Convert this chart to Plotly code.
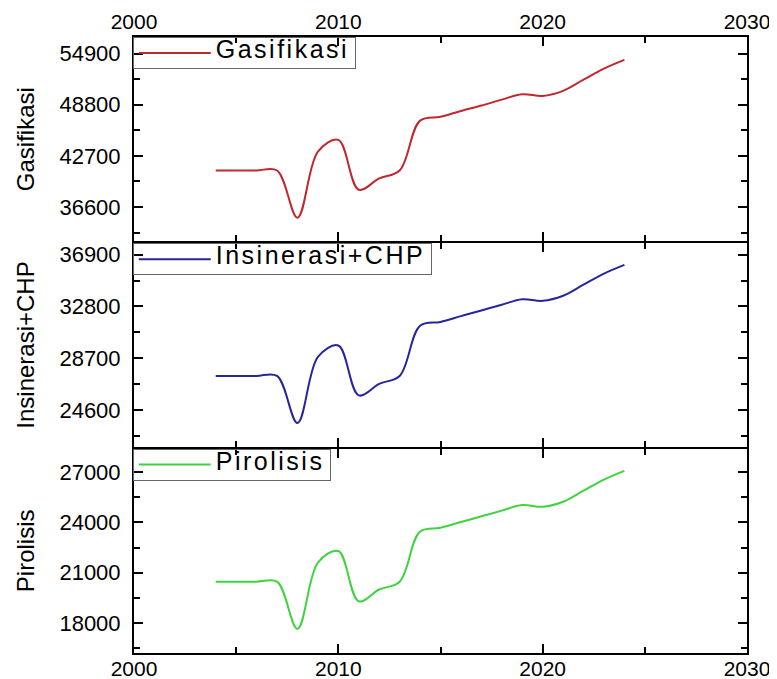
import plotly.graph_objects as go
from plotly.subplots import make_subplots

years = list(range(2004, 2025))
gasifikasi = [40950, 40950, 40950, 40950, 35320, 43200, 44600, 38650, 40000, 40950,
              46900, 47350, 48050, 48700, 49400, 50050, 49850, 50450, 51780, 53100, 54140]
insinerasi_chp = [27290, 27290, 27290, 27290, 23560, 28800, 29700, 25750, 26670, 27290,
                  31270, 31570, 32030, 32480, 32930, 33370, 33240, 33640, 34520, 35400, 36090]
pirolisis = [20465, 20465, 20465, 20465, 17660, 21600, 22290, 19300, 20000, 20465,
             23450, 23680, 24020, 24360, 24700, 25030, 24930, 25230, 25890, 26550, 27070]

names = ["Gasifikasi", "Insinerasi+CHP", "Pirolisis"]
colors = ["#c0282d", "#26269c", "#3fd33f"]
series = [gasifikasi, insinerasi_chp, pirolisis]
y_ranges = [[32498, 56874], [21688, 37797], [16219, 28389]]
y_tick0 = [36600, 24600, 18000]
y_dtick = [6100, 4100, 3000]

FONT = "Liberation Sans, Arial, sans-serif"
LEGEND_STYLE = "font-size:25px;letter-spacing:2.5px"

# page body has an 8px margin -> figure is drawn inside 769x671
W, H = 769, 671
M_L, M_R, M_T, M_B = 126, 30, 29, 26
PH = H - M_T - M_B
px = 1.0 / PH
domains = [[2 / 3 + px, 1], [1 / 3 + px, 2 / 3 - px], [0, 1 / 3 - px]]

fig = make_subplots(rows=3, cols=1, shared_xaxes=True, vertical_spacing=0)

legend_keys = ["legend", "legend2", "legend3"]
for i in range(3):
    fig.add_trace(go.Scatter(x=years, y=series[i], mode="lines",
                             name='<span style="%s">%s</span>' % (LEGEND_STYLE, names[i]),
                             line=dict(color=colors[i], width=2, shape="spline", smoothing=1),
                             legend=legend_keys[i]), row=i + 1, col=1)

axis_common = dict(showline=True, linecolor="black", linewidth=2, mirror="allticks",
                   ticks="inside", ticklen=9, tickwidth=2, tickcolor="black",
                   showgrid=False, zeroline=False, automargin=False,
                   tickfont=dict(family=FONT, size=22, color="black"))

for i in range(3):
    fig.update_yaxes(range=y_ranges[i], tick0=y_tick0[i], dtick=y_dtick[i], tickmode="linear",
                     tickformat="d", domain=domains[i],
                     minor=dict(ticks="inside", dtick=y_dtick[i] / 2, ticklen=6, tickwidth=2,
                                tickcolor="black", showgrid=False),
                     title=dict(text=names[i], font=dict(family=FONT, size=24, color="black"),
                                standoff=18),
                     ticklabelstandoff=7,
                     row=i + 1, col=1, **axis_common)
    fig.update_xaxes(range=[2000, 2030], tick0=2000, dtick=10, tickmode="linear",
                     tickformat="d",
                     minor=dict(ticks="inside", dtick=5, ticklen=6, tickwidth=2,
                                tickcolor="black", showgrid=False),
                     row=i + 1, col=1, **axis_common)

fig.update_xaxes(showticklabels=True, side="top", ticklabelstandoff=-2,
                 tickfont=dict(family=FONT, size=21, color="black"), row=1, col=1)
fig.update_xaxes(showticklabels=True, ticklabelstandoff=-4,
                 tickfont=dict(family=FONT, size=21, color="black"), row=3, col=1)

leg_common = dict(x=-0.002, xanchor="left", yanchor="top", bordercolor="#666666", borderwidth=1,
                  bgcolor="rgba(255,255,255,0)",
                  font=dict(family=FONT, size=13, color="black"), itemwidth=72,
                  tracegroupgap=0)
fig.update_layout(
    legend=dict(y=domains[0][1], **leg_common),
    legend2=dict(y=domains[1][1], **leg_common),
    legend3=dict(y=domains[2][1], **leg_common),
    width=W, height=H,
    margin=dict(l=M_L, r=M_R, t=M_T, b=M_B),
    paper_bgcolor="white", plot_bgcolor="white",
    showlegend=True,
)

fig.write_html("out.html")
